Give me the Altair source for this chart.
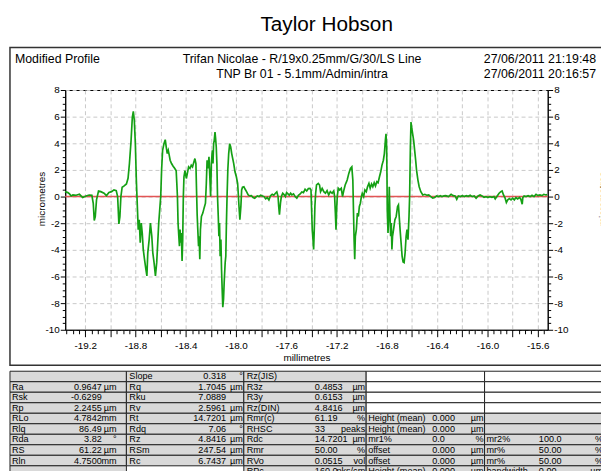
import altair as alt
import pandas as pd
import numpy as np

# ---------------- profile data (millimetres, micrometres) ----------------
seg1_x = [-19.362, -19.339, -19.326, -19.313, -19.299, -19.273, -19.247, -19.221, -19.195, -19.169,
          -19.148, -19.137, -19.129, -19.121, -19.111, -19.095, -19.077, -19.051, -19.032, -19.012,
          -18.991, -18.972, -18.954, -18.943, -18.938, -18.933, -18.925, -18.917, -18.907, -18.891,
          -18.873, -18.860, -18.849, -18.836, -18.826, -18.818, -18.810, -18.802, -18.794, -18.786,
          -18.779, -18.771, -18.763, -18.755, -18.747, -18.739, -18.729, -18.718, -18.710, -18.703,
          -18.692, -18.682, -18.671, -18.663, -18.653, -18.642, -18.632]
seg1_y = [0.37, 0.30, 0.20, 0.05, 0.12, 0.10, 0.17, -0.07, 0.05, 0.12,
          0.10, -0.50, -1.80, -1.50, -0.25, 0.42, 0.37, 0.25, 0.07, 0.30,
          0.37, 0.50, 0.45, 0.00, -1.00, -2.05, -1.50, 0.00, 0.70, 0.80,
          0.95, 1.37, 2.48, 4.20, 5.95, 6.40, 5.70, 3.97, 1.24, -0.74,
          -2.48, -1.74, -3.47, -1.99, -2.73, -3.97, -4.71, -5.46, -5.96, -4.22,
          -3.23, -1.99, -2.98, -4.22, -4.96, -5.96, -4.96]

seg2_x = [-18.624, -18.616, -18.608, -18.600, -18.593, -18.585, -18.574, -18.564, -18.556, -18.548,
          -18.540, -18.532, -18.525, -18.514, -18.501, -18.488, -18.477, -18.472, -18.467, -18.462,
          -18.456, -18.451, -18.446, -18.441, -18.436, -18.430, -18.425, -18.420, -18.415, -18.407,
          -18.396, -18.388, -18.378, -18.367, -18.357, -18.347, -18.336, -18.328, -18.320, -18.315,
          -18.310, -18.305, -18.299, -18.294, -18.289, -18.284, -18.276, -18.265, -18.255, -18.244,
          -18.237, -18.231, -18.223, -18.216, -18.208, -18.203, -18.197, -18.189, -18.184, -18.179,
          -18.174, -18.168, -18.163, -18.158, -18.153, -18.148, -18.142, -18.137, -18.132, -18.127,
          -18.121, -18.116, -18.111, -18.106, -18.100, -18.095, -18.087, -18.082, -18.077, -18.072,
          -18.066, -18.059, -18.051, -18.043, -18.035, -18.027, -18.019, -18.009, -17.998, -17.988,
          -17.983, -17.977, -17.970, -17.962, -17.956, -17.949, -17.938, -17.928, -17.917, -17.904,
          -17.891, -17.878, -17.865, -17.852, -17.839]
seg2_y = [-3.50, -2.00, -1.00, 0.00, 2.00, 3.47, 3.97, 4.27, 3.72, 3.23,
          3.47, 3.10, 2.73, 2.48, 2.28, 2.11, 1.94, 1.00, 0.00, -2.00,
          -2.98, -3.72, -2.48, -3.47, -2.73, -4.84, -3.23, 0.00, 1.49, 1.94,
          1.36, 1.74, 2.23, 2.11, 2.36, 2.23, 2.60, 2.85, 2.48, 0.50,
          -1.36, -2.48, -3.72, -2.98, -4.71, -2.48, -1.49, -1.24, -0.87, -0.50,
          1.00, 2.73, 2.11, 2.98, 1.24, 0.00, 2.48, 3.47, 2.48, 3.97,
          4.22, 4.84, 4.34, 3.72, 2.48, 0.00, -1.49, -2.98, -1.99, -4.47,
          -3.23, -5.46, -6.95, -8.30, -7.69, -6.45, -4.96, -4.47, -1.99, 0.00,
          1.99, 3.23, 3.97, 3.72, 3.23, 2.85, 2.48, 1.86, 1.49, 1.00,
          0.25, -0.74, -1.74, -0.74, 0.50, 0.70, 0.74, 0.55, 0.37, 0.12,
          0.05, 0.07, -0.07, -0.12, 0.00]

seg3_x = [-17.831, -17.818, -17.805, -17.791, -17.778, -17.765, -17.752, -17.739, -17.726, -17.713,
          -17.700, -17.687, -17.676, -17.666, -17.661, -17.655, -17.647, -17.640, -17.629, -17.619,
          -17.608, -17.598, -17.587, -17.577, -17.566, -17.556, -17.543, -17.530, -17.517, -17.504,
          -17.490, -17.477, -17.464, -17.451, -17.438, -17.425, -17.412, -17.404, -17.399, -17.394,
          -17.388, -17.383, -17.378, -17.373, -17.367, -17.360, -17.346, -17.336, -17.328, -17.315,
          -17.302, -17.289, -17.276, -17.263, -17.250, -17.236, -17.223, -17.216, -17.210, -17.205,
          -17.200, -17.195, -17.187, -17.176, -17.163, -17.153, -17.142, -17.132, -17.121]
seg3_y = [0.05, 0.00, 0.10, 0.05, 0.00, -0.17, -0.07, -0.25, 0.07, 0.17,
          0.10, 0.25, 0.35, 0.00, -0.74, -1.36, -0.50, 0.00, 0.25, 0.15,
          0.00, 0.30, 0.20, 0.10, 0.25, 0.12, 0.20, 0.00, -0.12, 0.10,
          0.20, 0.35, 0.30, 0.55, 0.42, 0.60, 0.62, 0.50, -1.00, -2.48,
          -3.23, -3.97, -2.48, -0.74, 0.25, 0.87, 0.99, 0.87, 0.37, 0.62,
          0.37, 0.25, 0.45, 0.12, 0.37, 0.25, 0.42, 0.00, -1.24, -2.48,
          -1.00, 0.00, 0.62, 0.50, 0.62, 0.00, 0.50, 0.87, 1.12]

seg4_x = [-17.116, -17.103, -17.090, -17.079, -17.071, -17.066, -17.061, -17.056, -17.051, -17.043,
          -17.035, -17.027, -17.019, -17.011, -17.003, -16.996, -16.985, -16.975, -16.964, -16.954,
          -16.943, -16.933, -16.922, -16.912, -16.901, -16.891, -16.880, -16.870, -16.859, -16.849,
          -16.839, -16.828, -16.820, -16.812, -16.807, -16.802, -16.799, -16.797, -16.791, -16.786,
          -16.781, -16.776, -16.770, -16.765, -16.760, -16.755, -16.747, -16.736, -16.726, -16.715,
          -16.708, -16.702, -16.695, -16.687, -16.679, -16.671, -16.663, -16.655, -16.647, -16.640,
          -16.632, -16.624, -16.619, -16.613, -16.608, -16.603, -16.595, -16.587, -16.579, -16.571,
          -16.564, -16.553, -16.543, -16.530, -16.514, -16.498, -16.483, -16.467, -16.451, -16.435,
          -16.420, -16.404, -16.388, -16.373]
seg4_y = [1.24, 1.74, 2.11, 2.23, 1.24, -1.00, -3.23, -4.71, -2.98, -2.48,
          -1.24, -1.49, -0.74, -0.50, 0.00, 0.25, 0.00, 0.50, 0.37, 0.74,
          0.99, 0.62, 0.94, 0.74, 1.04, 0.79, 1.12, 1.04, 1.49, 1.86,
          2.36, 2.73, 3.23, 4.22, 4.71, 3.72, 1.24, -1.00, -2.73, -1.49,
          0.74, -1.24, -2.98, -1.99, -3.97, -2.98, -2.48, -1.74, -1.49, -0.74,
          -0.62, -1.49, -2.48, -3.47, -4.47, -4.91, -4.96, -4.22, -2.98, -2.48,
          -3.23, -1.49, 0.00, 3.72, 5.60, 5.21, 4.71, 4.22, 3.47, 2.73,
          1.99, 1.24, 0.74, 0.37, 0.12, 0.17, 0.10, 0.12, 0.00, -0.12,
          -0.07, 0.05, 0.00, 0.07]

seg5_x = [-16.362, -16.346, -16.331, -16.310, -16.289, -16.273, -16.257, -16.244, -16.231, -16.215,
          -16.200, -16.184, -16.168, -16.153, -16.137, -16.121, -16.105, -16.090, -16.074, -16.058,
          -16.043, -16.027, -16.011, -15.996, -15.980, -15.964, -15.948, -15.938, -15.922, -15.907,
          -15.893, -15.883, -15.872, -15.859, -15.849, -15.838, -15.825, -15.812, -15.799, -15.786,
          -15.773, -15.760, -15.744, -15.734, -15.723, -15.718, -15.708, -15.692, -15.676, -15.660,
          -15.645, -15.629, -15.613, -15.598, -15.582, -15.566, -15.551, -15.535, -15.524]
seg5_y = [0.00, 0.05, 0.07, 0.00, 0.17, 0.07, 0.05, -0.20, 0.05, 0.00,
          0.07, 0.00, 0.07, 0.02, 0.10, 0.00, 0.05, -0.12, 0.05, 0.12,
          0.05, -0.05, 0.00, -0.07, 0.00, -0.05, 0.00, -0.17, 0.05, 0.25,
          0.37, 0.42, 0.12, -0.12, -0.45, -0.25, -0.15, -0.25, -0.12, -0.25,
          -0.07, -0.17, -0.07, -0.20, -0.57, -0.07, 0.05, 0.00, 0.07, 0.00,
          0.10, 0.00, 0.17, 0.07, 0.12, 0.07, 0.17, 0.12, 0.15]

profile = pd.DataFrame({
    "x": seg1_x + seg2_x + seg3_x + seg4_x + seg5_x,
    "y": seg1_y + seg2_y + seg3_y + seg4_y + seg5_y,
})
zero_line = pd.DataFrame({"y": [0.0]})

# ---------------- texts ----------------
title_text = ["Taylor Hobson"]
header_left = ["Modified Profile"]
header_center = ["Trifan Nicolae - R/19x0.25mm/G/30/LS Line", "TNP Br 01 - 5.1mm/Admin/intra"]
header_right = ["27/06/2011 21:19:48", "27/06/2011 20:16:57"]

col1_labels = ["", "Ra", "Rsk", "Rp", "RLo", "Rlq", "Rda", "RS", "Rln", ""]
col1_values = ["", "0.9647", "-0.6299", "2.2455", "4.7842", "86.49", "3.82", "61.22", "4.7500", ""]
col1_units = ["", "µm", "", "µm", "mm", "µm", "°", "µm", "mm", ""]
col2_labels = ["Slope", "Rq", "Rku", "Rv", "Rt", "Rdq", "Rz", "RSm", "Rc", ""]
col2_values = ["0.318", "1.7045", "7.0889", "2.5961", "14.7201", "7.06", "4.8416", "247.54", "6.7437", ""]
col2_units = ["°", "µm", "", "µm", "µm", "°", "µm", "µm", "µm", ""]
col3_labels = ["Rz(JIS)", "R3z", "R3y", "Rz(DIN)", "Rmr(c)", "RHSC", "Rdc", "Rmr", "RVo", "RPc"]
col3_values = ["", "0.4853", "0.6153", "4.8416", "61.19", "33", "14.7201", "50.00", "0.0515", "160.0"]
col3_units = ["", "µm", "µm", "µm", "%", "peaks", "µm", "%", "vol", "pks/cm"]
col4_labels = ["", "", "", "", "Height (mean)", "Height (mean)", "mr1%", "offset", "offset", "Height (mean)"]
col4_values = ["", "", "", "", "0.000", "0.000", "0.0", "0.000", "0.000", "0.000"]
col4_units = ["", "", "", "", "µm", "µm", "%", "µm", "µm", "µm"]
col5_labels = ["", "", "", "", "", "", "mr2%", "mr%", "mr%", "bandwidth"]
col5_values = ["", "", "", "", "", "", "100.0", "50.00", "50.00", "0.00"]
col5_units = ["", "", "", "", "", "", "%", "%", "%", "µm"]

# ---------------- layout (pixels) ----------------
FONT = "Liberation Sans"
W, H = 489, 243
OX, OY = 66, 88            # page position of the plot origin
PAD = {"left": OX - 8, "top": OY - 8, "right": 601 - (OX - 8) - W, "bottom": 463 - (OY - 8) - H}

TABLE_TOP = 373
ROW_H = 10.65
COL_B = [10, 128, 247, 371, 491, 640]
# (label_x, label_align), (value_x, value_align), (unit_x, unit_align) per column, page coords
COL_POS = [
    ((12, "left"), (103, "right"), (118, "right")),
    ((131, "left"), (229, "right"), (246, "right")),
    ((250, "left"), (319, "left"), (370, "right")),
    ((373, "left"), (438, "left"), (490, "right")),
    ((493, "left"), (546, "left"), (611, "right")),
]
WHITE_CELLS = {(0, 3), (0, 4), (1, 3), (1, 4), (2, 3), (2, 4), (3, 3), (3, 4), (9, 1)}
TABLE_FONT = 9.2
HEAD_FONT = 12.5

columns = [
    (col1_labels, col1_values, col1_units),
    (col2_labels, col2_values, col2_units),
    (col3_labels, col3_values, col3_units),
    (col4_labels, col4_values, col4_units),
    (col5_labels, col5_values, col5_units),
]

cells = []
for r in range(10):
    for c in range(5):
        if (r, c) == (9, 1):
            continue
        y1 = TABLE_TOP + r * ROW_H
        cells.append({
            "x1": COL_B[c] - OX, "x2": COL_B[c + 1] - OX,
            "y1": y1 - OY, "y2": y1 + ROW_H - OY,
            "fill": "white" if (r, c) in WHITE_CELLS else "#d9d9d9",
        })
cells_df = pd.DataFrame(cells)

texts = []
for c, (labs, vals, units) in enumerate(columns):
    for r in range(10):
        yc = TABLE_TOP + r * ROW_H + ROW_H / 2 - OY
        for (px, al), txt in zip(COL_POS[c], (labs[r], vals[r], units[r])):
            if txt:
                texts.append({"px": px - OX, "py": yc, "text": txt, "align": al, "size": TABLE_FONT})
texts.append({"px": 331 - OX, "py": 22 - OY, "text": title_text[0], "align": "center", "size": 21})
texts.append({"px": 15 - OX, "py": 57 - OY, "text": header_left[0], "align": "left", "size": HEAD_FONT})
for i, t in enumerate(header_center):
    texts.append({"px": 306 - OX, "py": 57 + 15 * i - OY, "text": t, "align": "center", "size": HEAD_FONT})
for i, t in enumerate(header_right):
    texts.append({"px": 604 - OX, "py": 57 + 15 * i - OY, "text": t, "align": "right", "size": HEAD_FONT})
texts_df = pd.DataFrame(texts)

frames_df = pd.DataFrame([
    {"x1": 10 - OX, "x2": 640 - OX, "y1": 45 - OY, "y2": 367 - OY},
])

# ---------------- axes ----------------
x_ticks = [round(float(v), 2) for v in np.arange(-19.35, -15.52, 0.05)]
y_ticks = [round(float(v), 1) for v in np.arange(-10, 8.01, 0.5)]
MINUS = "\u2212"
X_MAJOR = "abs(datum.value*5-round(datum.value*5))<0.01"
Y_MAJOR = "abs(datum.value/2-round(datum.value/2))<0.01"

x_axis = alt.Axis(
    values=x_ticks,
    labelExpr=f"abs(datum.value/0.4-round(datum.value/0.4))<0.01 ? replace(format(datum.value,'.1f'),'{MINUS}','-') : ''",
    labelOverlap=False, labelFont=FONT, labelFontSize=10, labelColor="#000", labelPadding=4,
    tickSize={"condition": {"test": X_MAJOR, "value": 7}, "value": 4},
    tickColor="#000", domainColor="#000",
    grid=True, gridDash=[4, 3], gridColor="#c8c8c8",
    gridOpacity={"condition": {"test": X_MAJOR, "value": 1}, "value": 0},
    title="millimetres", titleFont=FONT, titleFontSize=10, titleFontWeight="normal", titlePadding=2,
)

def y_axis(orient, grid, title_x):
    return alt.Axis(
        orient=orient,
        values=y_ticks,
        labelExpr=f"{Y_MAJOR} ? replace(format(datum.value,'d'),'{MINUS}','-') : ''",
        labelOverlap=False, labelFont=FONT, labelFontSize=10, labelColor="#000", labelPadding=1,
        tickSize={"condition": {"test": Y_MAJOR, "value": 5}, "value": 3},
        tickColor="#000", domainColor="#000",
        grid=grid, gridDash=[4, 3], gridColor="#c8c8c8",
        gridOpacity={"condition": {"test": Y_MAJOR, "value": 1}, "value": 0},
        title="micrometres", titleFont=FONT, titleFontSize=10, titleFontWeight="normal",
        titleAngle=270, titleX=title_x, titleY=110, titleAlign="center", titleBaseline="middle",
    )

xs = alt.Scale(domain=[-19.36, -15.52], nice=False, zero=False)
ys = alt.Scale(domain=[-10, 8], nice=False, zero=False)

line = alt.Chart(profile).mark_line(color="#14a014", strokeWidth=1.7).encode(
    x=alt.X("x:Q", scale=xs, axis=x_axis),
    y=alt.Y("y:Q", scale=ys, axis=y_axis("left", True, -24)),
    order="x:Q",
)
zero = alt.Chart(zero_line).mark_rule(color="#e25555", strokeWidth=1.5).encode(
    y=alt.Y("y:Q", scale=ys, axis=y_axis("right", False, 56)),
)

plot = alt.layer(zero, line).resolve_axis(y="independent")

frame = alt.Chart(frames_df).mark_rect(fill=None, stroke="#333", strokeWidth=1.5).encode(
    x=alt.X("x1:Q", scale=None), x2="x2:Q", y=alt.Y("y1:Q", scale=None), y2="y2:Q",
)
cells_layer = alt.Chart(cells_df).mark_rect(stroke="#222", strokeWidth=1).encode(
    x=alt.X("x1:Q", scale=None), x2="x2:Q", y=alt.Y("y1:Q", scale=None), y2="y2:Q",
    fill=alt.Fill("fill:N", scale=None),
)

def text_layer(al):
    return alt.Chart(texts_df).transform_filter(alt.datum.align == al).mark_text(
        align=al, baseline="middle", font=FONT, color="#000"
    ).encode(
        x=alt.X("px:Q", scale=None), y=alt.Y("py:Q", scale=None),
        text="text:N", size=alt.Size("size:Q", scale=None),
    )

chart = alt.layer(
    frame, cells_layer, plot, text_layer("left"), text_layer("center"), text_layer("right")
).properties(
    width=W, height=H, padding=PAD, autosize=alt.AutoSizeParams(type="none"),
    background="white",
).configure_view(stroke="#000", strokeWidth=1)

chart.save("out.html", embed_options={"renderer": "svg", "actions": False})
